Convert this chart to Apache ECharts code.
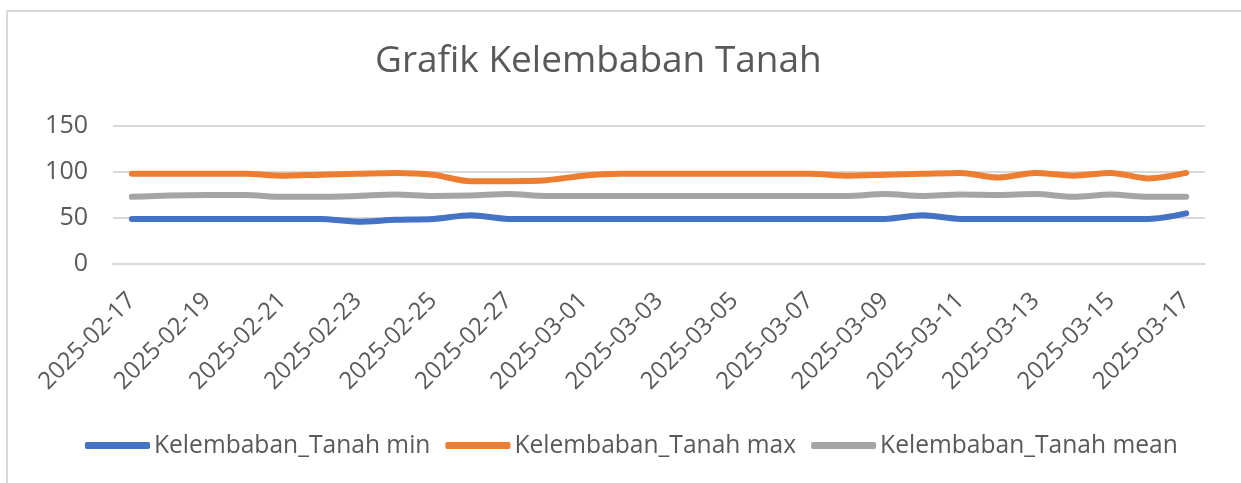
<!DOCTYPE html>
<html>
<head>
<meta charset="utf-8">
<script src="https://cdn.jsdelivr.net/npm/echarts@6/dist/echarts.min.js"></script>
<style>
  html, body { margin: 0; padding: 0; background: #fff; }
  #frame {
    position: absolute; left: 6px; top: 10px; width: 1240px; height: 490px;
    border: 2px solid #D9D9D9; box-sizing: border-box; pointer-events: none;
  }
  #chart { position: absolute; left: 0; top: 0; width: 1241px; height: 483px; }
</style>
</head>
<body>
<div id="chart"></div>
<div id="frame"></div>
<script>
// tanggal pengukuran
const dates = [
  '2025-02-17', '2025-02-18', '2025-02-19', '2025-02-20', '2025-02-21', '2025-02-22',
  '2025-02-23', '2025-02-24', '2025-02-25', '2025-02-26', '2025-02-27', '2025-02-28',
  '2025-03-01', '2025-03-02', '2025-03-03', '2025-03-04', '2025-03-05', '2025-03-06',
  '2025-03-07', '2025-03-08', '2025-03-09', '2025-03-10', '2025-03-11', '2025-03-12',
  '2025-03-13', '2025-03-14', '2025-03-15', '2025-03-16', '2025-03-17'
];
const tanahMin = [49, 49, 49, 49, 49, 49, 46, 48, 49, 53, 49, 49, 49, 49, 49, 49, 49, 49, 49, 49, 49, 53, 49, 49, 49, 49, 49, 49, 55];
const tanahMax = [98, 98, 98, 98, 96, 97, 98, 99, 97, 90, 90, 91, 96, 98, 98, 98, 98, 98, 98, 96, 97, 98, 99, 94, 99, 96, 99, 93, 99];
const tanahMean = [73, 74.5, 75, 75, 73, 73, 74, 75.5, 74, 74.5, 76, 74, 74, 74, 74, 74, 74, 74, 74, 74, 76, 74, 75.5, 75, 76, 73, 75.5, 73, 73];
const yTicks = [0, 50, 100, 150];

const font = '"Open Sans", "Noto Sans", sans-serif';
const chart = echarts.init(document.getElementById('chart'), null, { renderer: 'canvas' });

function lineSeries(name, data, color) {
  return {
    name: name,
    type: 'line',
    data: data,
    smooth: 0.3,
    symbol: 'none',
    lineStyle: { width: 6, color: color, cap: 'round', join: 'round' },
    itemStyle: { color: color }
  };
}

chart.setOption({
  animation: false,
  backgroundColor: '#fff',
  textStyle: { fontFamily: font },
  title: {
    text: 'Grafik Kelembaban Tanah',
    left: 370,
    top: 38,
    textStyle: { fontFamily: font, fontSize: 37, fontWeight: 'normal', color: '#595959' }
  },
  legend: {
    left: 80,
    top: 428,
    itemWidth: 65,
    itemHeight: 7,
    itemGap: 15,
    icon: 'roundRect',
    textStyle: { fontFamily: font, fontSize: 24.6, color: '#595959', padding: [0, 0, 0, -1] },
    data: ['Kelembaban_Tanah min', 'Kelembaban_Tanah max', 'Kelembaban_Tanah mean']
  },
  grid: { left: 113, right: 36, top: 126, bottom: 219 },
  xAxis: {
    type: 'category',
    data: dates,
    boundaryGap: true,
    axisLine: { lineStyle: { color: '#D9D9D9', width: 2 } },
    axisTick: { show: false },
    axisLabel: {
      interval: 1,
      rotate: 45,
      margin: 33,
      fontSize: 24,
      color: '#595959',
      fontFamily: font
    }
  },
  yAxis: {
    type: 'value',
    min: yTicks[0],
    max: yTicks[yTicks.length - 1],
    interval: 50,
    axisLine: { show: false },
    axisTick: { show: false },
    axisLabel: { fontSize: 25, color: '#595959', margin: 25, fontFamily: font },
    splitLine: { lineStyle: { color: '#D9D9D9', width: 2 } }
  },
  series: [
    lineSeries('Kelembaban_Tanah min', tanahMin, '#4472C4'),
    lineSeries('Kelembaban_Tanah max', tanahMax, '#ED7D31'),
    lineSeries('Kelembaban_Tanah mean', tanahMean, '#A5A5A5')
  ]
});
</script>
</body>
</html>
